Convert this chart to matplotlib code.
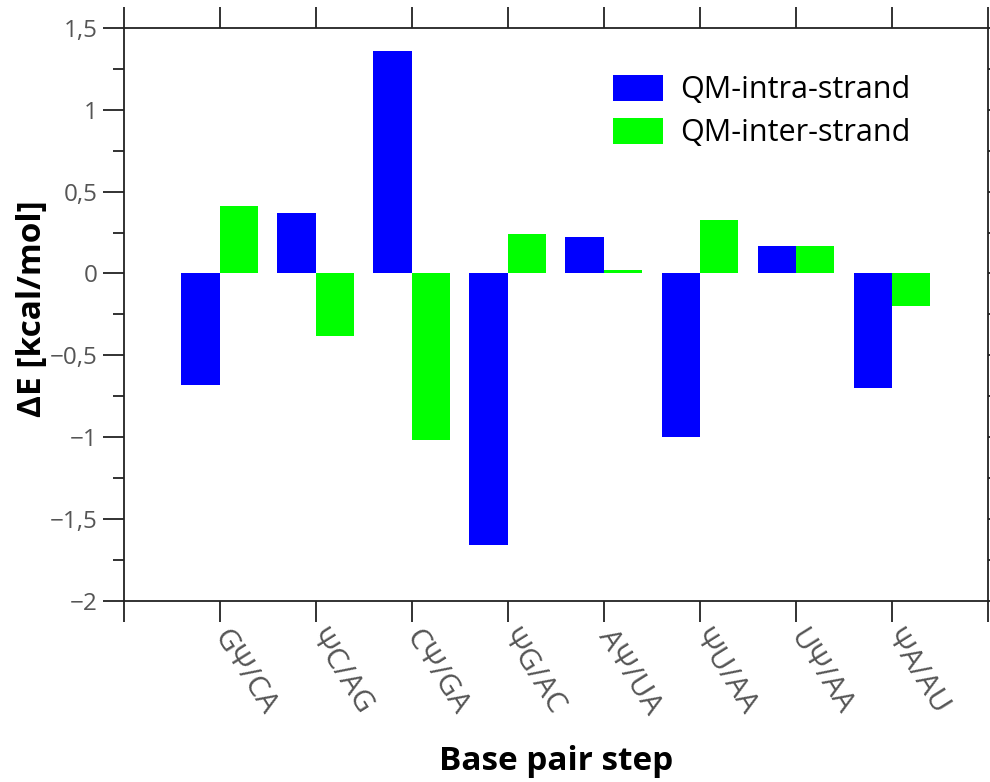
import matplotlib
matplotlib.use("Agg")
import matplotlib.pyplot as plt
import numpy as np
from matplotlib.ticker import MultipleLocator, FuncFormatter, FixedLocator

plt.rcParams['font.family'] = ['Open Sans', 'Noto Sans', 'DejaVu Sans']

steps = ["GΨ/CA", "ΨC/AG", "CΨ/GA", "ΨG/AC", "AΨ/UA", "ΨU/AA", "UΨ/AA", "ΨA/AU"]
qm_intra = [-0.68, 0.37, 1.36, -1.66, 0.22, -1.00, 0.17, -0.70]
qm_inter = [0.41, -0.38, -1.02, 0.24, 0.02, 0.33, 0.17, -0.20]

fig = plt.figure(figsize=(9.9, 7.82), dpi=100)
ax = fig.add_axes([0.125, 0.232, 0.873, 0.732])

x = np.arange(1, len(steps) + 1)
w = 0.4
ax.bar(x - w / 2, qm_intra, width=w, color="#0000ff", label="QM-intra-strand")
ax.bar(x + w / 2, qm_inter, width=w, color="#00ff00", label="QM-inter-strand")

ax.set_xlim(0, len(steps) + 1)
ax.set_ylim(-2, 1.5)

ax.xaxis.set_major_locator(FixedLocator(np.arange(0, len(steps) + 2)))
ax.set_xticklabels([""] + steps + [""])
ax.yaxis.set_major_locator(MultipleLocator(0.5))
ax.yaxis.set_minor_locator(MultipleLocator(0.25))

def fmt(v, pos):
    s = f"{v:g}".replace(".", ",")
    return s.replace("-", "\u2212")

ax.yaxis.set_major_formatter(FuncFormatter(fmt))

ax.tick_params(axis="both", which="major", direction="out", length=15, width=1.3,
               color="#222222", labelcolor="#555555")
ax.tick_params(axis="y", labelsize=17.5, pad=4)
ax.tick_params(axis="x", labelsize=21.5, pad=8)
ax.tick_params(axis="both", which="minor", direction="out", length=8, width=1.3,
               color="#222222")
ax.tick_params(top=True, right=True, which="both")
for lbl in ax.get_xticklabels():
    lbl.set_rotation(-58)
    lbl.set_ha("left")
    lbl.set_va("center")
    lbl.set_rotation_mode("anchor")

for sp in ax.spines.values():
    sp.set_linewidth(1.3)
    sp.set_color("#222222")

ax.set_ylabel("ΔE [kcal/mol]", fontsize=24, fontweight="bold")
ax.yaxis.set_label_coords(-0.087, 0.51)
ax.set_xlabel("Base pair step", fontsize=24, fontweight="bold")
ax.xaxis.set_label_coords(0.5, -0.252)

ax.legend(loc="upper left", bbox_to_anchor=(0.552, 0.94), frameon=False, fontsize=22,
          handlelength=1.65, handleheight=0.95, handletextpad=0.55, labelspacing=0.4,
          borderaxespad=0)

fig.savefig("out.png", dpi=100)
